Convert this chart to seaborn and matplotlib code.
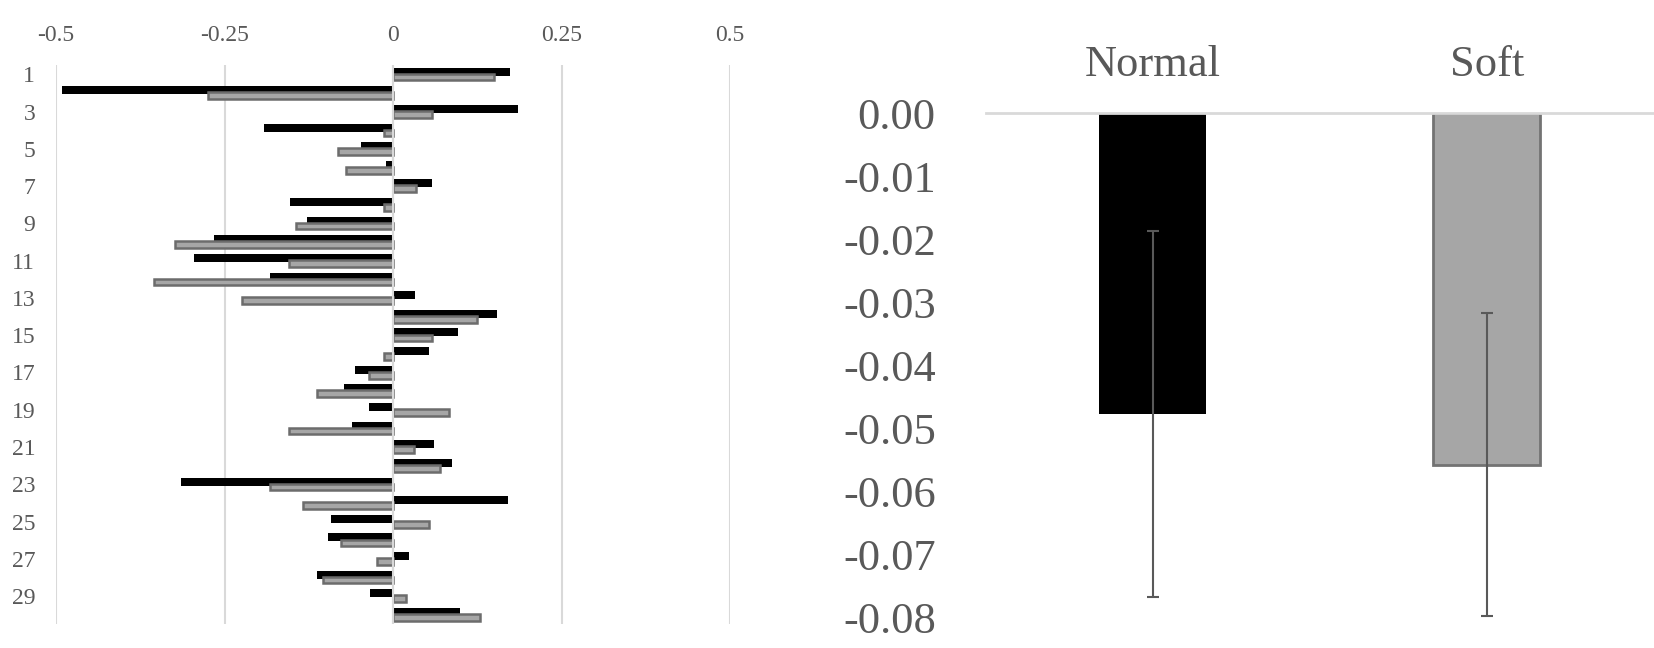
import numpy as np
import pandas as pd
import matplotlib
matplotlib.use("Agg")
import matplotlib.pyplot as plt
import seaborn as sns

# -----------------------------
# Data
# -----------------------------
items = list(range(1, 31))
normal_item = [0.173, -0.491, 0.186, -0.192, -0.048, -0.011, 0.058, -0.153, -0.127, -0.265,
               -0.296, -0.183, 0.032, 0.154, 0.097, 0.053, -0.057, -0.073, -0.035, -0.061,
               0.060, 0.087, -0.315, 0.170, -0.092, -0.096, 0.024, -0.113, -0.034, 0.099]
soft_item = [0.150, -0.275, 0.058, -0.014, -0.081, -0.070, 0.034, -0.014, -0.144, -0.324,
             -0.155, -0.355, -0.224, 0.124, 0.058, -0.014, -0.036, -0.113, 0.083, -0.155,
             0.031, 0.070, -0.182, -0.133, 0.053, -0.078, -0.024, -0.104, 0.019, 0.129]

groups = ["Normal", "Soft"]
group_means = [-0.0478, -0.0558]
group_err = [0.029, 0.024]

left_ticks = [-0.5, -0.25, 0, 0.25, 0.5]
left_tick_labels = ["-0.5", "-0.25", "0", "0.25", "0.5"]
right_ticks = [-0.08, -0.07, -0.06, -0.05, -0.04, -0.03, -0.02, -0.01, 0.0]
right_tick_labels = ["-0.08", "-0.07", "-0.06", "-0.05", "-0.04", "-0.03", "-0.02", "-0.01", "0.00"]

# -----------------------------
# Style
# -----------------------------
sns.set_theme(style="white")
plt.rcParams["font.family"] = ["Liberation Serif", "DejaVu Serif"]
TXT = "#595959"
GRID = "#d9d9d9"
GRAY = "#a6a6a6"
EDGE = "#6c6c6c"

fig = plt.figure(figsize=(16.54, 6.48), dpi=100)

# -----------------------------
# Left panel: per-item horizontal bars
# -----------------------------
df = pd.DataFrame({
    "item": items * 2,
    "value": normal_item + soft_item,
    "group": ["Normal"] * len(items) + ["Soft"] * len(items),
})

ax1 = fig.add_axes([0.0339, 0.037, 0.4075, 0.8627])
sns.barplot(data=df, x="value", y="item", hue="group", orient="h", order=items,
            palette=["black", GRAY], dodge=True, width=0.58, saturation=1,
            legend=False, ax=ax1)

# widen bars so the pair overlaps like the original
for p in ax1.patches:
    c = p.get_y() + p.get_height() / 2
    if np.allclose(p.get_facecolor()[:3], (0, 0, 0)):
        p.set_height(0.43)
        p.set_y(c - 0.215)
        p.set_linewidth(0)
    else:
        p.set_height(0.36)
        p.set_y(c - 0.18)
        p.set_edgecolor(EDGE)
        p.set_linewidth(1.8)

ax1.set_xlim(-0.5, 0.5)
ax1.set_ylim(29.5, -0.5)
ax1.set_xticks(left_ticks)
ax1.set_xticklabels(left_tick_labels)
ax1.set_yticks(range(0, 30, 2))
ax1.set_yticklabels([str(i) for i in items[::2]])
ax1.xaxis.tick_top()
ax1.set_axisbelow(True)
ax1.grid(axis="x", color=GRID, lw=1.5)
ax1.grid(axis="y", visible=False)
ax1.axvline(0, color=GRID, lw=1.5, zorder=5)
for s in ax1.spines.values():
    s.set_visible(False)
ax1.tick_params(axis="x", length=0, pad=14, labelsize=17, labelcolor=TXT)
ax1.tick_params(axis="y", length=0, pad=15, labelsize=17, labelcolor=TXT)
ax1.set_xlabel("")
ax1.set_ylabel("")

# -----------------------------
# Right panel: group means with error bars
# -----------------------------
ax2 = fig.add_axes([0.596, 0.0478, 0.404, 0.7778])
sns.barplot(x=groups, y=group_means, hue=groups, palette=["black", GRAY],
            width=0.32, saturation=1, legend=False, ax=ax2)
for p in ax2.patches:
    if np.allclose(p.get_facecolor()[:3], (0, 0, 0)):
        p.set_linewidth(0)
    else:
        p.set_edgecolor("#737373")
        p.set_linewidth(2)

ax2.errorbar(ax2.get_xticks(), group_means, yerr=group_err, fmt="none",
             ecolor=TXT, elinewidth=1.5, capsize=4.5, capthick=1.5, zorder=6)

ax2.set_xlim(-0.5, 1.5)
ax2.set_ylim(-0.08, 0)
ax2.set_yticks(right_ticks)
ax2.set_yticklabels(right_tick_labels)
ax2.xaxis.tick_top()
for name, s in ax2.spines.items():
    s.set_visible(name == "top")
ax2.spines["top"].set_color(GRID)
ax2.spines["top"].set_linewidth(2)
ax2.tick_params(axis="x", length=0, pad=20, labelsize=32, labelcolor=TXT)
ax2.tick_params(axis="y", length=0, pad=36, labelsize=32, labelcolor=TXT)
ax2.set_xlabel("")
ax2.set_ylabel("")

fig.savefig("out.png", dpi=100)
